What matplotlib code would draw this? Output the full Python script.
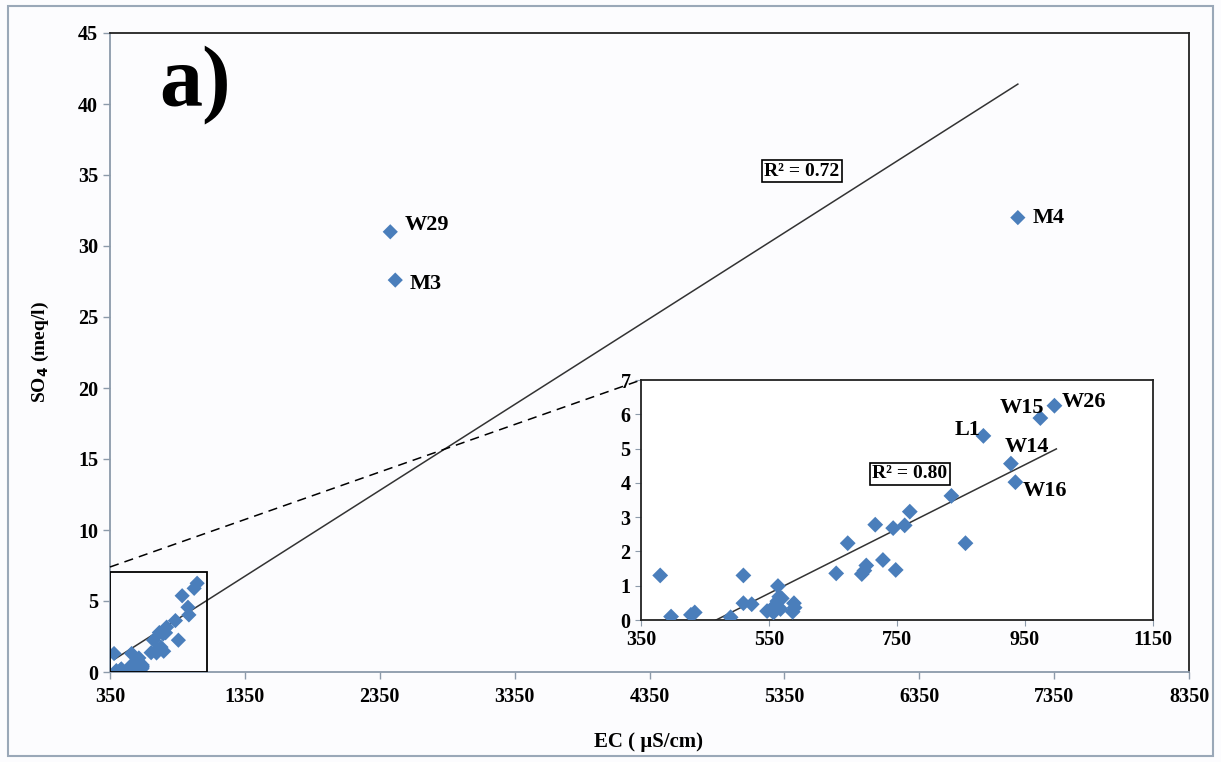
import matplotlib
matplotlib.use("Agg")
import matplotlib.pyplot as plt
import numpy as np
from matplotlib.lines import Line2D
from matplotlib.patches import Rectangle

# ---------------- data ----------------
ec_low = [380, 397, 428, 434, 490, 510, 510, 523, 547, 555, 557, 560, 563, 564,
          566, 568, 570, 587, 589, 590, 655, 673, 695, 699, 702, 716, 728, 744,
          748, 762, 770, 835, 857, 885, 928, 935, 974, 996]
so4_low = [1.30, 0.10, 0.15, 0.22, 0.08, 1.30, 0.49, 0.46, 0.26, 0.32, 0.22, 0.44,
           0.55, 0.99, 0.68, 0.32, 0.63, 0.24, 0.49, 0.36, 1.36, 2.24, 1.34, 1.44,
           1.59, 2.78, 1.75, 2.68, 1.46, 2.76, 3.16, 3.62, 2.24, 5.37, 4.56, 4.02,
           5.89, 6.25]
low_names = {"L1": 33, "W14": 34, "W16": 35, "W15": 36, "W26": 37}

ec_high = [2428, 2465, 7081]
so4_high = [31.0, 27.6, 32.0]
high_names = ["W29", "M3", "M4"]

# trend lines: endpoints x, y
trend_all_x = [387, 7081]
trend_all_y = [0.92, 41.4]
trend_low_x = [380, 999]
trend_low_y = [-0.82, 4.99]

main_xticks = [350, 1350, 2350, 3350, 4350, 5350, 6350, 7350, 8350]
main_yticks = [0, 5, 10, 15, 20, 25, 30, 35, 40, 45]
inset_xticks = [350, 550, 750, 950, 1150]
inset_yticks = [0, 1, 2, 3, 4, 5, 6, 7]

r2_all = "R² = 0.72"
r2_low = "R² = 0.80"

# ---------------- style ----------------
plt.rcParams['font.family'] = ['Liberation Serif', 'DejaVu Serif']
plt.rcParams['font.weight'] = 'bold'
blue = '#4A7EBB'
W, H = 1221, 762
fig = plt.figure(figsize=(W / 100, H / 100), dpi=100)
fig.patch.set_facecolor('#FCFCFE')

# outer border
fig.add_artist(Rectangle((8 / W, 1 - 756 / H), (1213 - 8) / W, (756 - 6) / H,
                         transform=fig.transFigure, fill=False,
                         edgecolor='#9AA8B8', lw=1.5))

ax = fig.add_axes([110 / W, 1 - 672 / H, (1189 - 110) / W, (672 - 33) / H])
ax.set_facecolor('#FCFCFE')
ax.set_xlim(350, 8350)
ax.set_ylim(0, 45)
ax.set_xticks(main_xticks)
ax.set_yticks(main_yticks)
ax.tick_params(axis='both', labelsize=14.5, length=5, color='#8C9AAA', width=1, direction='out')
ax.tick_params(axis='x', pad=6)
for lbl in ax.get_xticklabels() + ax.get_yticklabels():
    lbl.set_fontweight('bold')
for s in ax.spines.values():
    s.set_color('#222222')
    s.set_linewidth(1.3)
ax.spines['left'].set_color('#8C9AAA')
ax.spines['bottom'].set_color('#8C9AAA')

all_x = ec_low + ec_high
all_y = so4_low + so4_high
ax.scatter(all_x, all_y, marker='D', s=60, color=blue, edgecolors='none', zorder=3)
ax.plot(trend_all_x, trend_all_y, color='#333333', lw=1.1, zorder=2)

high_dy = [0.5, -0.3, 0.0]
for x, y, n, dy in zip(ec_high, so4_high, high_names, high_dy):
    ax.text(x + 110, y + dy, n, fontsize=16, fontweight='bold', va='center', ha='left')

ax.text(802 / W, 1 - 171 / H, r2_all, transform=fig.transFigure, fontsize=14,
        fontweight='bold', ha='center', va='center',
        bbox=dict(boxstyle='square,pad=0.12', fc='white', ec='black', lw=1.2))

ax.text(195 / W, 1 - 85 / H, "a)", transform=fig.transFigure, fontsize=62,
        fontweight='bold', ha='center', va='center')

fig.text(649 / W, 1 - 742 / H, "EC ( µS/cm)", fontsize=15, fontweight='bold',
         ha='center', va='center')
fig.text(40 / W, 1 - 352 / H, "SO$_\\mathbf{4}$ (meq/l)", fontsize=14, fontweight='bold',
         ha='center', va='center', rotation=90)

# zoom box
ax.add_patch(Rectangle((350, 0), 720, 7.04, fill=False, edgecolor='black', lw=1.3, zorder=4))

# dashed connector
fig.add_artist(Line2D([110 / W, 641 / W], [1 - 567 / H, 1 - 380 / H],
                      transform=fig.transFigure, color='black', lw=1.1,
                      linestyle=(0, (6, 4)), zorder=1))

# inset
ins = fig.add_axes([641 / W, 1 - 620 / H, (1153 - 641) / W, (620 - 380) / H], zorder=5)
ins.set_facecolor('white')
ins.set_xlim(350, 1150)
ins.set_ylim(0, 7)
ins.set_xticks(inset_xticks)
ins.set_yticks(inset_yticks)
ins.tick_params(axis='both', labelsize=14.5, length=4, color='#8C9AAA', direction='out')
for lbl in ins.get_xticklabels() + ins.get_yticklabels():
    lbl.set_fontweight('bold')
for s in ins.spines.values():
    s.set_color('#222222')
    s.set_linewidth(1.3)
ins.scatter(ec_low, so4_low, marker='D', s=65, color=blue, edgecolors='none', zorder=3)
ins.plot(trend_low_x, trend_low_y, color='#333333', lw=1.1, zorder=2)

offsets = {"L1": (-5, 0.18, 'right'), "W14": (-9, 0.5, 'left'),
           "W16": (12, -0.25, 'left'), "W15": (6, 0.3, 'right'), "W26": (12, 0.12, 'left')}
for n, i in low_names.items():
    dx, dy, ha = offsets[n]
    ins.text(ec_low[i] + dx, so4_low[i] + dy, n, fontsize=16, fontweight='bold',
             ha=ha, va='center')

ins.text(910 / W, 1 - 474 / H, r2_low, transform=fig.transFigure, fontsize=14,
         fontweight='bold', ha='center', va='center',
         bbox=dict(boxstyle='square,pad=0.12', fc='white', ec='black', lw=1.2))

fig.savefig("out.png", dpi=100, facecolor=fig.get_facecolor())
